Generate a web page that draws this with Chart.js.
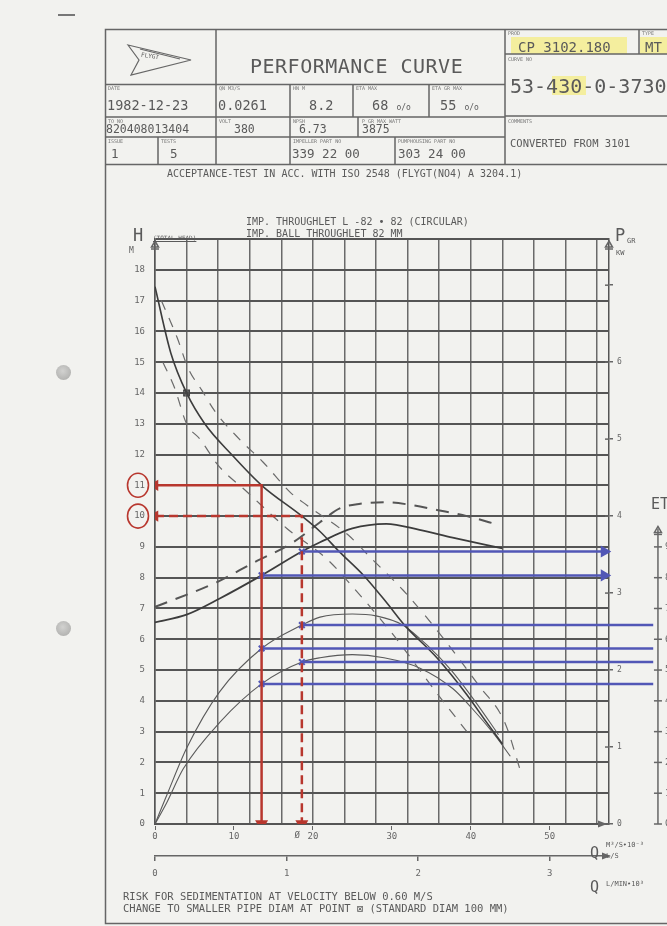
<!DOCTYPE html>
<html>
<head>
<meta charset="utf-8">
<title>Performance curve CP 3102.180</title>
<script src="https://cdn.jsdelivr.net/npm/chart.js@4.4.1/dist/chart.umd.min.js"></script>
<style>
  html, body { margin: 0; padding: 0; }
  body {
    width: 667px; height: 926px; overflow: hidden; position: relative;
    background: #f2f2ef; color: #585858;
    font-family: 'DejaVu Sans Mono', monospace;
  }
  #chart { position: absolute; left: 0; top: 0; }
  #sheet { position: absolute; left: 0; top: 0; }
  .t { position: absolute; white-space: nowrap; line-height: 1; color: #5a5a5a; }
  .lbl { font-size: 5px; color: #777; }
  .hl { position: absolute; background: #f4ee9e; }
  .hole {
    position: absolute; width: 15px; height: 15px; border-radius: 50%;
    background: radial-gradient(circle at 45% 40%, #d2d2d0 0%, #b9b9b7 60%, #a9a9a7 100%);
  }
</style>
</head>
<body>

<!-- paper marks -->
<div class="hole" style="left:56px; top:365px;"></div>
<div class="hole" style="left:56px; top:621px;"></div>
<div style="position:absolute; left:58px; top:14px; width:17px; height:1.5px; background:#777;"></div>

<!-- yellow marker highlights -->
<div class="hl" style="left:511px; top:37px; width:116px; height:17px;"></div>
<div class="hl" style="left:640px; top:37px; width:27px; height:17px;"></div>
<div class="hl" style="left:552px; top:76px; width:34px; height:19px;"></div>

<canvas id="chart" width="667" height="926"></canvas>

<!-- frame and header table -->
<svg id="sheet" width="667" height="926">
  <g stroke="#666" stroke-width="1.5" fill="none">
    <path d="M667 29.5 H105.5 V923.5 H667"/>
    <path d="M105 84.5 H505 M105 117 H505 M105 137 H505 M105 164.5 H667 M505 54 H667 M505 116 H667"/>
    <path d="M216 29 V164 M158 137 V164 M290 84 V164 M353 84 V117 M358 117 V137 M395 137 V164 M429 84 V117 M505 29 V164 M639 29 V54"/>
  </g>
  <!-- FLYGT logo -->
  <g stroke="#666" stroke-width="1.2" fill="none">
    <path d="M128 45 L191 60 L131 75 L139 60 Z"/>
    <path d="M140 49 L180 59"/>
  </g>
</svg>

<div class="t" style="left:141px; top:53px; font-size:6px; transform:rotate(8deg);">FLYGT</div>
<div class="t" style="left:250px; top:56px; font-size:20px; letter-spacing:0.5px;">PERFORMANCE CURVE</div>

<!-- row 1 -->
<div class="t lbl" style="left:108px; top:86px;">DATE</div>
<div class="t lbl" style="left:219px; top:86px;">QN M3/S</div>
<div class="t lbl" style="left:293px; top:86px;">HN M</div>
<div class="t lbl" style="left:356px; top:86px;">ETA MAX</div>
<div class="t lbl" style="left:432px; top:86px;">ETA GR MAX</div>
<div class="t" style="left:107px; top:99px; font-size:13.5px;">1982-12-23</div>
<div class="t" style="left:218px; top:99px; font-size:13.5px;">0.0261</div>
<div class="t" style="left:309px; top:99px; font-size:13.5px;">8.2</div>
<div class="t" style="left:372px; top:99px; font-size:13.5px;">68 <span style="font-size:8px;">o/o</span></div>
<div class="t" style="left:440px; top:99px; font-size:13.5px;">55 <span style="font-size:8px;">o/o</span></div>

<!-- row 2 -->
<div class="t lbl" style="left:108px; top:119px;">TO NO</div>
<div class="t lbl" style="left:219px; top:119px;">VOLT</div>
<div class="t lbl" style="left:293px; top:119px;">NPSH</div>
<div class="t lbl" style="left:362px; top:119px;">P GR MAX WATT</div>
<div class="t" style="left:106px; top:124px; font-size:11.5px;">820408013404</div>
<div class="t" style="left:234px; top:124px; font-size:11.5px;">380</div>
<div class="t" style="left:299px; top:124px; font-size:11.5px;">6.73</div>
<div class="t" style="left:362px; top:124px; font-size:11.5px;">3875</div>

<!-- row 3 -->
<div class="t lbl" style="left:108px; top:139px;">ISSUE</div>
<div class="t lbl" style="left:161px; top:139px;">TESTS</div>
<div class="t lbl" style="left:293px; top:139px;">IMPELLER PART NO</div>
<div class="t lbl" style="left:398px; top:139px;">PUMPHOUSING PART NO</div>
<div class="t" style="left:111px; top:148px; font-size:12.5px;">1</div>
<div class="t" style="left:170px; top:148px; font-size:12.5px;">5</div>
<div class="t" style="left:292px; top:148px; font-size:12.5px;">339 22 00</div>
<div class="t" style="left:398px; top:148px; font-size:12.5px;">303 24 00</div>

<!-- right block -->
<div class="t lbl" style="left:508px; top:31px;">PROD</div>
<div class="t lbl" style="left:642px; top:31px;">TYPE</div>
<div class="t" style="left:518px; top:40px; font-size:14px;">CP 3102.180</div>
<div class="t" style="left:645px; top:40px; font-size:14px;">MT</div>
<div class="t lbl" style="left:508px; top:57px;">CURVE NO</div>
<div class="t" style="left:510px; top:76px; font-size:20px;">53-430-0-3730</div>
<div class="t lbl" style="left:508px; top:119px;">COMMENTS</div>
<div class="t" style="left:510px; top:138px; font-size:10.5px;">CONVERTED FROM 3101</div>

<div class="t" style="left:167px; top:169px; font-size:10px;">ACCEPTANCE-TEST IN ACC. WITH ISO 2548 (FLYGT(NO4) A 3204.1)</div>

<!-- axis titles and notes around the diagram -->
<div class="t" style="left:133px; top:227px; font-size:17px;">H</div>
<div class="t" style="left:153px; top:235px; font-size:6px; text-decoration:underline;">(TOTAL HEAD)</div>
<div class="t" style="left:129px; top:247px; font-size:8px;">M</div>
<div class="t" style="left:246px; top:217px; font-size:10px;">IMP. THROUGHLET L -82 &bull; 82  (CIRCULAR)</div>
<div class="t" style="left:246px; top:229px; font-size:10px;">IMP. BALL THROUGHLET 82  MM</div>
<div class="t" style="left:615px; top:227px; font-size:17px;">P</div>
<div class="t" style="left:627px; top:238px; font-size:7px;">GR</div>
<div class="t" style="left:616px; top:250px; font-size:7px;">KW</div>
<div class="t" style="left:651px; top:497px; font-size:15px;">ETA</div>
<div class="t" style="left:590px; top:846px; font-size:15px;">Q</div>
<div class="t" style="left:606px; top:842px; font-size:7px;">M³/S•10⁻³</div>
<div class="t" style="left:606px; top:853px; font-size:7px;">L/S</div>
<div class="t" style="left:590px; top:880px; font-size:15px;">Q</div>
<div class="t" style="left:606px; top:881px; font-size:7px;">L/MIN•10³</div>

<div class="t" style="left:123px; top:891px; font-size:10.5px;">RISK FOR SEDIMENTATION AT VELOCITY BELOW 0.60 M/S</div>
<div class="t" style="left:123px; top:903px; font-size:10.5px;">CHANGE TO SMALLER PIPE DIAM AT POINT &#8864; (STANDARD DIAM 100  MM)</div>

<script>
/* ---------------------------------------------------------
   Pump performance curve CP 3102.180, curve 53-430-0-3730
   Flow Q in l/s, head H in m, power P in kW, efficiency in %
   Values.
--------------------------------------------------------- */

// Axis ticks
const gridQ = [0, 4, 8, 12, 16, 20, 24, 28, 32, 36, 40, 44, 48, 52, 56];
const qTicks = [0, 10, 20, 30, 40, 50];
const lminTicks = [0, 1, 2, 3];
const hTicks = [0, 1, 2, 3, 4, 5, 6, 7, 8, 9, 10, 11, 12, 13, 14, 15, 16, 17, 18, 19];
const pTicks = [0, 1, 2, 3, 4, 5, 6, 7];
const etaTicks = [0, 10, 20, 30, 40, 50, 60, 70, 80, 90];

// Axis ranges (the eta scale runs 10 % per metre of head)
const qMax = 57.5;
const hMax = 19;
const pMax = 7.6;
const etaMax = 190;
const etaTop = 96;
const etaAxisQ = 63.7;   // where the cut-off ETA axis stands
const lsPerLmin = 1000 / 60;
const sedimentQ = 18;    // the "Ø" mark on the Q axis

// H-Q curve
const headQ = [0, 2, 4, 6.3, 9.7, 13.5, 18.6, 20.9, 23.4, 26.4, 29.3, 31.6, 35.7, 39.5, 42, 44];
const headH = [17.45, 15.3, 14.0, 13.0, 12.0, 11.0, 10.0, 9.5, 8.83, 8.08, 7.2, 6.46, 5.4, 4.2, 3.3, 2.6];

// Tolerance band around the H-Q curve (dashed)
const tolHighQ = [0.8, 2.8, 4.2, 5.9, 7.6, 10.8, 13.7, 17.1, 19.2, 24.4, 27.5, 31.4, 36, 41, 44.3, 46.2];
const tolHighH = [17.0, 15.8, 14.8, 14.1, 13.4, 12.47, 11.75, 10.78, 10.36, 9.4, 8.6, 7.6, 6.2, 4.5, 3.3, 1.8];
const tolLowQ = [1, 2.5, 4, 5.7, 8, 11.6, 16.7, 21.8, 24.7, 30, 35.4, 39.5];
const tolLowH = [15.0, 14.15, 13.0, 12.5, 11.65, 10.8, 9.6, 8.6, 7.8, 6.2, 4.35, 3.0];

// Power input P_GR (solid) and upper power curve (dashed), kW
const powerQ = [0, 4, 8.2, 13.5, 18.6, 20.9, 25, 29.3, 33.5, 37.7, 44];
const powerKw = [2.62, 2.72, 2.93, 3.23, 3.54, 3.66, 3.84, 3.9, 3.82, 3.72, 3.58];
const powerMaxQ = [0, 7.8, 12.4, 17.5, 20.9, 23.4, 26, 29.3, 32.7, 35.7, 39.5, 43.7];
const powerMaxKw = [2.82, 3.14, 3.39, 3.66, 3.92, 4.1, 4.16, 4.18, 4.14, 4.08, 4.0, 3.88];

// Efficiency curves, %
const etaQ = [0, 1.5, 4, 8.2, 13.5, 18.6, 20.9, 25, 28, 31.4, 34.5, 37.5, 40.5, 43.5];
const etaPct = [0, 9.4, 24.6, 43, 57, 64.6, 67.2, 68.2, 67.6, 64.6, 58, 50, 40, 29];
const etaGrQ = [0, 1.5, 3.6, 8.2, 13.5, 18.6, 20.9, 25, 29, 33.5, 37.7, 40, 43, 45];
const etaGrPct = [0, 7, 18, 33, 45.5, 52.6, 54, 55, 54, 50.7, 44, 38, 29, 22];

// Hand-drawn read-offs: two duty points (red) and their values (blue)
const dutyQ = [13.5, 18.6];
const dutyH = [11, 10];
const dutyKw = [3.23, 3.54];
const dutyEta = [57, 64.6];
const dutyEtaGr = [45.5, 52.6];

/* --------------------------------------------------------- */

const pts = (xs, ys) => xs.map((x, i) => ({ x: x, y: ys[i] }));

const red = '#b8372e';
const blue = '#5257b6';
const ink = '#3c3c3c';
const tickFont = { family: 'DejaVu Sans Mono', size: 9 };

// Base style for the plotted curves
function curve(data, axis, color, width, dash) {
  return {
    data: data,
    yAxisID: axis,
    showLine: true,
    borderColor: color,
    borderWidth: width,
    borderDash: dash || [],
    pointRadius: 0,
    cubicInterpolationMode: 'monotone',
    order: 2,
  };
}

// Construction lines: a red leader to the H axis and down to the Q axis
function redLeader(i, dash) {
  return {
    data: pts([0, dutyQ[i], dutyQ[i]], [dutyH[i], dutyH[i], 0]),
    yAxisID: 'y',
    showLine: true,
    borderColor: red,
    borderWidth: 2.5,
    borderDash: dash,
    pointStyle: 'triangle',
    pointRadius: [4, 0, 5],
    pointRotation: [270, 0, 180],
    pointBackgroundColor: red,
    pointBorderColor: red,
    order: 0,
  };
}

// Blue read-off arrow from a duty point to the power or ETA axis
function blueArrow(q, value, axis, endQ) {
  return {
    data: pts([q, endQ], [value, value]),
    yAxisID: axis,
    showLine: true,
    clip: false,
    borderColor: blue,
    borderWidth: 2.5,
    pointStyle: ['crossRot', 'triangle'],
    pointRadius: [4, 5],
    pointRotation: [0, 90],
    pointBorderWidth: 2,
    pointBackgroundColor: blue,
    pointBorderColor: blue,
    order: 1,
  };
}

const datasets = [
  redLeader(0, []),
  redLeader(1, [9, 5]),
  blueArrow(dutyQ[1], dutyKw[1], 'p', qMax - 0.6),
  blueArrow(dutyQ[0], dutyKw[0], 'p', qMax - 0.6),
  blueArrow(dutyQ[1], dutyEta[1], 'eta', etaAxisQ - 0.6),
  blueArrow(dutyQ[0], dutyEta[0], 'eta', etaAxisQ - 0.6),
  blueArrow(dutyQ[1], dutyEtaGr[1], 'eta', etaAxisQ - 0.6),
  blueArrow(dutyQ[0], dutyEtaGr[0], 'eta', etaAxisQ - 0.6),
  curve(pts(headQ, headH), 'y', ink, 1.6),
  curve(pts(tolHighQ, tolHighH), 'y', '#6a6a6a', 1.2, [10, 9]),
  curve(pts(tolLowQ, tolLowH), 'y', '#6a6a6a', 1.2, [10, 9]),
  curve(pts(powerQ, powerKw), 'p', ink, 1.8),
  curve(pts(powerMaxQ, powerMaxKw), 'p', '#555', 2, [13, 9]),
  curve(pts(etaQ, etaPct), 'eta', '#5a5a5a', 1.1),
  curve(pts(etaGrQ, etaGrPct), 'eta', '#5a5a5a', 1.1),
  // the boxed point on the H-Q curve referred to in the footnote
  {
    data: pts([headQ[2], headQ[2]], [headH[2], headH[2]]),
    yAxisID: 'y',
    showLine: false,
    pointStyle: ['rect', 'crossRot'],
    pointRadius: 4,
    pointBorderWidth: 1.2,
    pointBorderColor: '#444',
    pointBackgroundColor: 'rgba(0,0,0,0)',
    order: 0,
  },
];

// Extra sheet drawing: ETA axis, axis heads, red circles, arrows
const sheetExtras = {
  id: 'sheetExtras',
  afterDraw(chart) {
    const { ctx, chartArea: a, scales } = chart;
    const x = scales.x, y = scales.y, p = scales.p, eta = scales.eta, lmin = scales.xmin;

    const line = (x1, y1, x2, y2) => {
      ctx.beginPath(); ctx.moveTo(x1, y1); ctx.lineTo(x2, y2); ctx.stroke();
    };
    const delta = (cx, cy) => {
      ctx.beginPath();
      ctx.moveTo(cx, cy - 4); ctx.lineTo(cx + 3.5, cy + 2); ctx.lineTo(cx - 3.5, cy + 2);
      ctx.closePath(); ctx.stroke();
      line(cx - 4, cy + 4, cx + 4, cy + 4);
    };
    const arrowRight = (tx, ty) => {
      ctx.beginPath();
      ctx.moveTo(tx, ty); ctx.lineTo(tx - 9, ty - 3.5); ctx.lineTo(tx - 9, ty + 3.5);
      ctx.closePath(); ctx.fill();
    };

    ctx.save();
    ctx.strokeStyle = '#666';
    ctx.fillStyle = '#666';
    ctx.lineWidth = 1.5;

    // ETA axis, cut by the edge of the scan
    const ex = x.getPixelForValue(etaAxisQ);
    line(ex, eta.getPixelForValue(0), ex, eta.getPixelForValue(etaTop));
    ctx.font = '9px "DejaVu Sans Mono"';
    ctx.textBaseline = 'middle';
    etaTicks.forEach((v) => {
      const py = eta.getPixelForValue(v);
      line(ex - 4, py, ex + 4, py);
      ctx.fillText(String(v), ex + 7, py);
    });
    delta(ex, eta.getPixelForValue(etaTop) + 2);

    // heads of the H and P axes
    delta(a.left, a.top + 6);
    delta(a.right, a.top + 6);

    // inner half of the P ticks
    pTicks.forEach((v) => {
      const py = p.getPixelForValue(v);
      line(a.right - 4, py, a.right, py);
    });

    // arrow heads on both Q axes
    arrowRight(a.right - 2, a.bottom);
    arrowRight(a.right + 2, lmin.top);

    // sedimentation mark in the Q tick row
    ctx.textAlign = 'center';
    ctx.fillText('\u00D8', x.getPixelForValue(sedimentQ), a.bottom + 12);

    // red circles round the read heads
    ctx.strokeStyle = red;
    ctx.lineWidth = 1.6;
    dutyH.forEach((v) => {
      ctx.beginPath();
      ctx.ellipse(a.left - 17, y.getPixelForValue(v), 10.5, 12, 0, 0, Math.PI * 2);
      ctx.stroke();
    });
    ctx.restore();
  },
};

Chart.defaults.font.family = 'DejaVu Sans Mono';
Chart.defaults.color = '#666';

new Chart(document.getElementById('chart'), {
  type: 'scatter',
  data: { datasets: datasets },
  options: {
    responsive: false,
    animation: false,
    events: [],
    layout: { padding: { top: 239, left: 0, right: 0, bottom: 0 } },
    plugins: { legend: { display: false }, tooltip: { enabled: false } },
    scales: {
      // plot grid, every 4 l/s
      x: {
        type: 'linear', position: 'bottom', weight: 0, min: 0, max: qMax,
        afterBuildTicks: (s) => { s.ticks = gridQ.map((v) => ({ value: v })); },
        ticks: { display: false },
        grid: { color: '#6a6a6a', lineWidth: 1.5, drawTicks: false },
        border: { color: '#555', width: 2 },
        afterFit: (s) => { s.height = 2; },
      },
      // labelled Q scale, l/s
      xq: {
        type: 'linear', position: 'bottom', weight: 1, min: 0, max: qMax,
        afterBuildTicks: (s) => { s.ticks = qTicks.map((v) => ({ value: v })); },
        ticks: { font: tickFont, color: '#666', padding: 1, maxRotation: 0, autoSkip: false },
        grid: { drawOnChartArea: false, tickLength: 4, color: '#666' },
        border: { display: false },
        afterFit: (s) => { s.height = 30; },
      },
      // second Q scale, l/min x 1000
      xmin: {
        type: 'linear', position: 'bottom', weight: 2, min: 0, max: qMax / lsPerLmin,
        afterBuildTicks: (s) => { s.ticks = lminTicks.map((v) => ({ value: v })); },
        ticks: { font: tickFont, color: '#666', padding: 7, maxRotation: 0, autoSkip: false },
        grid: { drawOnChartArea: false, tickLength: 5, color: '#666', lineWidth: 1.5 },
        border: { color: '#666', width: 1.5 },
        afterFit: (s) => { s.height = 70; },
      },
      y: {
        type: 'linear', position: 'left', min: 0, max: hMax,
        afterBuildTicks: (s) => { s.ticks = hTicks.map((v) => ({ value: v })); },
        ticks: {
          font: tickFont, color: '#666', padding: 10,
          callback: (v) => (v === hMax ? '' : String(v)),
        },
        grid: { color: '#555', lineWidth: 2, drawTicks: false },
        border: { color: '#555', width: 1.5 },
        afterFit: (s) => { s.width = 155; },
      },
      p: {
        type: 'linear', position: 'right', min: 0, max: pMax,
        afterBuildTicks: (s) => { s.ticks = pTicks.map((v) => ({ value: v })); },
        ticks: {
          font: { family: 'DejaVu Sans Mono', size: 8 }, color: '#666', padding: 4,
          callback: (v) => (v === 7 ? '' : String(v)),
        },
        grid: { drawOnChartArea: false, tickLength: 4, color: '#666', lineWidth: 1.5 },
        border: { color: '#555', width: 1.5 },
        afterFit: (s) => { s.width = 58; },
      },
      eta: {
        type: 'linear', axis: 'y', position: 'right', display: false, min: 0, max: etaMax,
      },
    },
  },
  plugins: [sheetExtras],
});
</script>
</body>
</html>
